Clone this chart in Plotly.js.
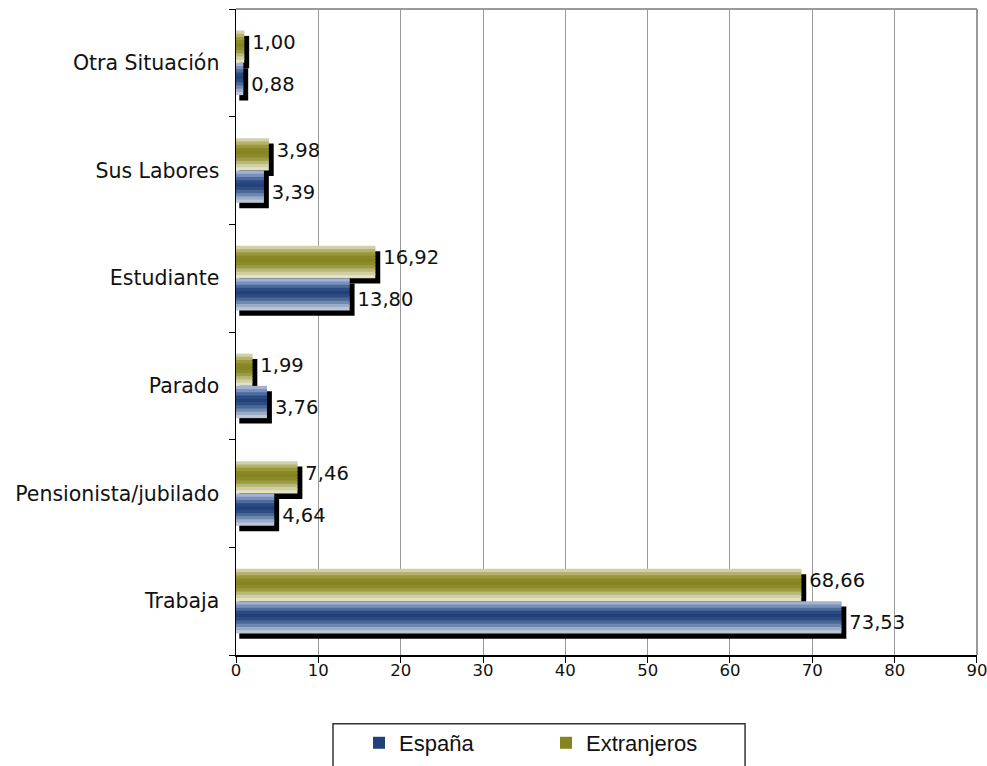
<!DOCTYPE html>
<html>
<head>
<meta charset="utf-8">
<script src="https://cdn.plot.ly/plotly-3.0.1.min.js"></script>
<style>
html, body { margin: 0; padding: 0; background: #ffffff; }
#chart { width: 987px; height: 766px; }
</style>
</head>
<body>
<div id="chart"></div>
<script>
// ---- data ----
const categories = ["Trabaja", "Pensionista/jubilado", "Parado", "Estudiante", "Sus Labores", "Otra Situación"];
const espana = [73.53, 4.64, 3.76, 13.80, 3.39, 0.88];
const extranjeros = [68.66, 7.46, 1.99, 16.92, 3.98, 1.00];
const seriesNames = ["España", "Extranjeros"];
const xTickVals = [0, 10, 20, 30, 40, 50, 60, 70, 80, 90];

// ---- styles ----
// stripes listed from bottom to top of each bar
const olivStripes = ["#e2e2c4", "#d0cfa2", "#b8b678", "#9c9a42", "#8c8a2c", "#86841f", "#8a8826", "#9a9838", "#b4b26c", "#d2d0a8"];
const blueStripes = ["#bcc6d6", "#9aacc6", "#6e88ae", "#4a6896", "#2e4c80", "#22407a", "#2c4a82", "#4c6a9c", "#7890bc", "#a4b2d0"];
const BAR_W = 0.30;        // bar thickness in category units
const SH_DY = 0.05;        // shadow downward shift (category units)
const SH_DX = 0.6;         // shadow extends beyond bar end (x units)
const SH_BASE = 0.4;       // shadow starts slightly right of axis

function fmt(v) { return v.toFixed(2).replace('.', ','); }

const traces = [];
// shadows
[[espana, -BAR_W], [extranjeros, 0]].forEach(([vals, off]) => {
  traces.push({
    type: 'bar', orientation: 'h', y: categories,
    x: vals.map(v => v + SH_DX - SH_BASE), base: SH_BASE,
    offset: off - SH_DY, width: BAR_W,
    marker: { color: '#000000', line: { width: 0 } },
    showlegend: false, hoverinfo: 'skip'
  });
});
// striped bars
function addStripes(vals, colors, off, name, rank) {
  const n = colors.length, w = BAR_W / n;
  colors.forEach((c, i) => {
    traces.push({
      type: 'bar', orientation: 'h', y: categories, x: vals,
      offset: off + i * w, width: (i === n - 1) ? w : w * 1.6,
      marker: { color: c, line: { width: 0 } },
      name: name, legendgroup: name,
      showlegend: i === Math.floor(n / 2), legendrank: rank,
      hoverinfo: 'skip'
    });
  });
}
addStripes(extranjeros, olivStripes, 0, seriesNames[1], 2);
addStripes(espana, blueStripes, -BAR_W, seriesNames[0], 1);

// value labels
[[espana, -BAR_W - 0.05], [extranjeros, 0.04]].forEach(([vals, off]) => {
  traces.push({
    type: 'bar', orientation: 'h', y: categories,
    x: vals.map(v => v + SH_DX), offset: off, width: BAR_W,
    marker: { color: 'rgba(0,0,0,0)' },
    text: vals.map(fmt), textposition: 'outside', cliponaxis: false,
    constraintext: 'none',
    textfont: { family: 'DejaVu Sans', size: 19.5, color: '#111111' },
    showlegend: false, hoverinfo: 'skip'
  });
});

const layout = {
  width: 987, height: 766,
  margin: { l: 236, r: 10, t: 9, b: 111, autoexpand: false },
  paper_bgcolor: '#ffffff', plot_bgcolor: '#ffffff',
  barmode: 'overlay',
  font: { family: 'DejaVu Sans', color: '#111111' },
  xaxis: {
    range: [0, 90.001], tickvals: xTickVals, ticktext: xTickVals.map(String),
    showgrid: true, gridcolor: '#9a9a9a', gridwidth: 1,
    zeroline: false,
    showline: true, linecolor: '#000000', linewidth: 1.5,
    ticks: 'outside', ticklen: 6, tickcolor: '#000000',
    tickfont: { family: 'DejaVu Sans', size: 16.5, color: '#111111' },
    ticklabelstandoff: -6, ticklabeloverflow: 'allow',
    automargin: false, fixedrange: true
  },
  yaxis: {
    type: 'category', categoryorder: 'array', categoryarray: categories,
    tickson: 'boundaries', ticks: 'outside', ticklen: 6, tickcolor: '#000000',
    showgrid: false, showline: true, linecolor: '#000000', linewidth: 1.5,
    tickfont: { family: 'DejaVu Sans', size: 20.5, color: '#111111' },
    ticklabelstandoff: 11, automargin: false, fixedrange: true
  },
  shapes: [
    // grey frame on top and right
    { type: 'line', xref: 'paper', yref: 'paper', x0: 0, x1: 1, y0: 1, y1: 1, line: { color: '#9a9a9a', width: 2 } },
    { type: 'line', xref: 'paper', yref: 'paper', x0: 1, x1: 1, y0: 0, y1: 1, line: { color: '#9a9a9a', width: 2 } },
    // legend box
    { type: 'rect', xref: 'paper', yref: 'paper', x0: 0.1309, x1: 0.687, y0: -0.1063, y1: -0.2,
      line: { color: '#333333', width: 1.5 }, fillcolor: 'rgba(0,0,0,0)' }
  ],
  showlegend: true,
  legend: {
    orientation: 'h', x: 0.166, xanchor: 'left', y: -0.1687, yanchor: 'bottom',
    bgcolor: 'rgba(0,0,0,0)', borderwidth: 0,
    font: { family: 'Liberation Sans', size: 22, color: '#111111' },
    entrywidth: 142, itemwidth: 30, traceorder: 'normal'
  }
};

Plotly.newPlot('chart', traces, layout, { displayModeBar: false, staticPlot: true });
</script>
</body>
</html>
